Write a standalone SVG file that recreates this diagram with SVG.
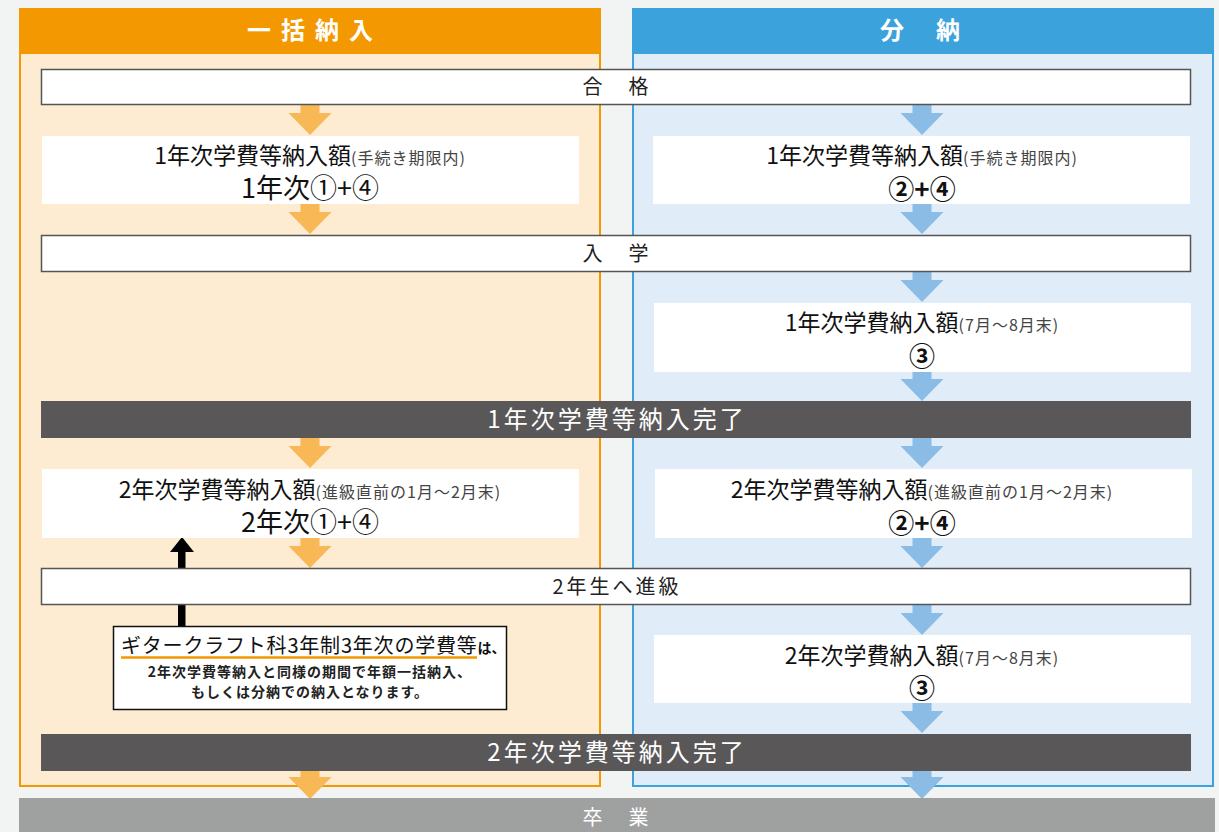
<svg xmlns="http://www.w3.org/2000/svg" xmlns:xlink="http://www.w3.org/1999/xlink" width="1219" height="832" viewBox="0 0 1219 832">
<style>
text{font-family:"Noto Sans CJK JP","Noto Sans",sans-serif;}
.hdr{font-size:24px;font-weight:bold;fill:#fff;text-anchor:middle;letter-spacing:10px;}
.bar{fill:#fff;stroke:#555;stroke-width:1.5;}
.bart{font-size:20px;fill:#222;text-anchor:middle;letter-spacing:3px;}
.box{fill:#fff;}
.l1{font-size:23px;font-weight:normal;fill:#111;text-anchor:middle;}
.sm{font-size:16px;font-weight:normal;fill:#444;letter-spacing:1px;}
.l2{font-size:27px;font-weight:normal;fill:#111;text-anchor:middle;}
.l2b{font-size:26px;font-weight:bold;fill:#111;text-anchor:middle;}
.dark{fill:#595757;}
.darkt{font-size:24px;fill:#fff;text-anchor:middle;letter-spacing:3px;}
.ao{fill:#f8b855;}
.ab{fill:#8abce6;}
.note{font-size:14px;font-weight:bold;fill:#222;text-anchor:middle;letter-spacing:1px;}
</style>
<defs>
<path id="arr" d="M-9.5,0 H9.5 V8 H21.5 L0,30 L-21.5,8 H-9.5 Z"/>
<path id="arrL" d="M-9.5,0 H9.5 V6 H21.5 L0,28 L-21.5,6 H-9.5 Z"/>
</defs>
<rect width="1219" height="832" fill="#f2f3f3"/>

<g id="col-left">
<rect x="20" y="53" width="580" height="733" fill="#fdebd2" stroke="#f39800" stroke-width="2"/>
<rect x="19" y="8" width="582" height="45" fill="#f39800"/>
<text class="hdr" x="315" y="39">一括納入</text>
</g>
<g id="col-right">
<rect x="633" y="53" width="580" height="733" fill="#e0ecf8" stroke="#3ba2dc" stroke-width="2"/>
<rect x="632" y="8" width="582" height="45" fill="#3ba2dc"/>
<text class="hdr" x="922" y="39" style="letter-spacing:4px">分　納</text>
</g>

<g id="connectors">
<use href="#arr" class="ao" x="310" y="105"/>
<use href="#arr" class="ab" x="922" y="105"/>
<use href="#arr" class="ao" x="310" y="204"/>
<use href="#arr" class="ab" x="922" y="204"/>
<use href="#arr" class="ab" x="922" y="272"/>
<use href="#arr" class="ab" x="922" y="371"/>
<use href="#arr" class="ao" x="310" y="438"/>
<use href="#arr" class="ab" x="922" y="438"/>
<use href="#arr" class="ao" x="310" y="538"/>
<use href="#arr" class="ab" x="922" y="538"/>
<use href="#arr" class="ab" x="922" y="605"/>
<use href="#arr" class="ab" x="922" y="703"/>
<use href="#arrL" class="ao" x="310" y="771"/>
<use href="#arrL" class="ab" x="922" y="771"/>
<path d="M178,626 V552 H170 L182,537 L194,552 H185.5 V626 Z" fill="#000"/>
</g>

<g id="pass">
<rect class="bar" x="41.5" y="69.5" width="1149" height="35"/>
<text class="bart" x="617" y="94">合　格</text>
</g>

<g id="pay1-left">
<rect class="box" x="42" y="136" width="537" height="68"/>
<text class="l1" x="310" y="164">1年次学費等納入額<tspan class="sm">(手続き期限内)</tspan></text>
<text class="l2" x="310" y="198">1年次①+④</text>
</g>
<g id="pay1-right">
<rect class="box" x="653" y="136" width="537" height="68"/>
<text class="l1" x="922" y="164">1年次学費等納入額<tspan class="sm">(手続き期限内)</tspan></text>
<text class="l2b" x="922" y="199">②+④</text>
</g>

<g id="enroll">
<rect class="bar" x="41.5" y="235.5" width="1149" height="36"/>
<text class="bart" x="617" y="261">入　学</text>
</g>

<g id="pay1b-right">
<rect class="box" x="654" y="303" width="537" height="69"/>
<text class="l1" x="922" y="331">1年次学費納入額<tspan class="sm">(7月〜8月末)</tspan></text>
<text class="l2b" x="922" y="366">③</text>
</g>

<g id="done1">
<rect class="dark" x="41" y="401" width="1150" height="37"/>
<text class="darkt" x="617" y="428">1年次学費等納入完了</text>
</g>

<g id="pay2-left">
<rect class="box" x="42" y="469" width="537" height="69"/>
<text class="l1" x="310" y="498">2年次学費等納入額<tspan class="sm">(進級直前の1月〜2月末)</tspan></text>
<text class="l2" x="310" y="532">2年次①+④</text>
</g>
<g id="pay2-right">
<rect class="box" x="655" y="469" width="537" height="69"/>
<text class="l1" x="922" y="498">2年次学費等納入額<tspan class="sm">(進級直前の1月〜2月末)</tspan></text>
<text class="l2b" x="922" y="533">②+④</text>
</g>

<g id="promote">
<rect class="bar" x="41.5" y="568.5" width="1149" height="36"/>
<text class="bart" x="617" y="594">2年生へ進級</text>
</g>

<g id="pay2b-right">
<rect class="box" x="654" y="635" width="537" height="68"/>
<text class="l1" x="922" y="664">2年次学費納入額<tspan class="sm">(7月〜8月末)</tspan></text>
<text class="l2b" x="922" y="698">③</text>
</g>

<g id="note">
<rect x="113.5" y="626.5" width="393" height="83" fill="#fff" stroke="#111" stroke-width="1.5"/>
<text x="121" y="653" style="font-size:20px;font-weight:normal;fill:#111;letter-spacing:0.8px">ギタークラフト科3年制3年次の学費等<tspan style="font-size:14px;font-weight:bold;letter-spacing:0">は、</tspan></text>
<line x1="121" y1="657.5" x2="477" y2="657.5" stroke="#f39800" stroke-width="2.5"/>
<text class="note" x="310" y="677">2年次学費等納入と同様の期間で年額一括納入、</text>
<text class="note" x="310" y="697">もしくは分納での納入となります。</text>
</g>

<g id="done2">
<rect class="dark" x="41" y="734" width="1150" height="37"/>
<text class="darkt" x="617" y="761">2年次学費等納入完了</text>
</g>

<g id="graduate">
<rect x="19" y="798" width="1196" height="34" fill="#9fa0a0"/>
<text class="bart" x="617" y="825" style="fill:#fff">卒　業</text>
</g>
</svg>
